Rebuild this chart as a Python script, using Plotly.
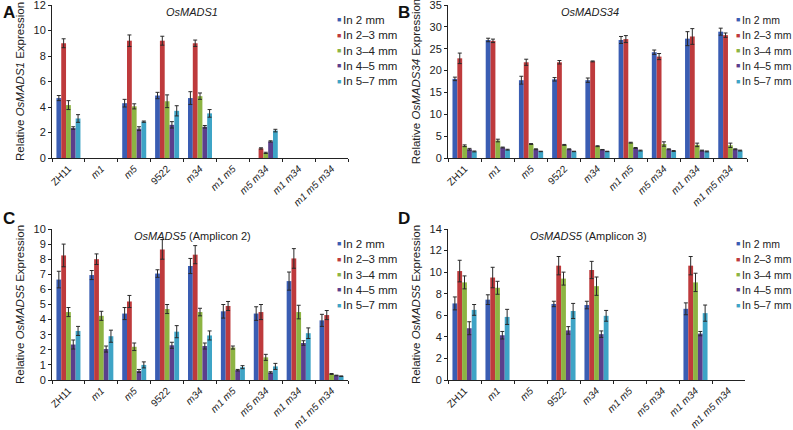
import plotly.graph_objects as go

categories = ["ZH11", "m1", "m5", "9522", "m34", "m1 m5", "m5 m34", "m1 m34", "m1 m5 m34"]
tick_labels = ["ZH11", "<i>m1</i>", "<i>m5</i>", "9522", "<i>m34</i>", "<i>m1 m5</i>",
               "<i>m5 m34</i>", "<i>m1 m34</i>", "<i>m1 m5 m34</i>"]
series_names = ["In 2 mm", "In 2\u20133 mm", "In 3\u20134 mm", "In 4\u20135 mm", "In 5\u20137 mm"]
colors = ["#3a5db3", "#be3a3c", "#8db443", "#5b3f8c", "#3ea4c6"]

# Panel A: OsMADS1
a_2mm = [4.7, 0, 4.3, 4.9, 4.7, 0, 0, 0, 0]
a_23 = [9.0, 0, 9.2, 9.2, 9.0, 0, 0.75, 0, 0]
a_34 = [4.15, 0, 4.05, 4.45, 4.85, 0, 0.4, 0, 0]
a_45 = [2.35, 0, 2.3, 2.6, 2.45, 0, 1.3, 0, 0]
a_57 = [3.1, 0, 2.85, 3.7, 3.5, 0, 2.15, 0, 0]
a_err_2mm = [0.2, 0, 0.3, 0.25, 0.5, 0, 0, 0, 0]
a_err_23 = [0.35, 0, 0.45, 0.35, 0.25, 0, 0.05, 0, 0]
a_err_34 = [0.35, 0, 0.2, 0.5, 0.25, 0, 0.05, 0, 0]
a_err_45 = [0.1, 0, 0.15, 0.25, 0.1, 0, 0.05, 0, 0]
a_err_57 = [0.3, 0, 0.05, 0.4, 0.3, 0, 0.1, 0, 0]

# Panel B: OsMADS34
b_2mm = [18.1, 27.0, 17.8, 18.0, 17.8, 27.0, 24.2, 27.3, 28.9]
b_23 = [22.8, 26.8, 21.9, 21.9, 22.1, 27.2, 23.2, 27.8, 28.1]
b_34 = [2.8, 4.0, 3.2, 3.0, 2.7, 3.5, 3.2, 3.0, 2.9]
b_45 = [2.0, 2.4, 2.0, 2.0, 1.9, 2.3, 2.0, 1.7, 2.0]
b_57 = [1.5, 1.9, 1.5, 1.5, 1.5, 1.7, 1.6, 1.5, 1.7]
b_err_2mm = [0.4, 0.4, 0.9, 0.4, 0.5, 0.8, 0.5, 1.6, 0.8]
b_err_23 = [1.2, 0.4, 0.7, 0.4, 0.1, 0.8, 0.7, 1.8, 0.5]
b_err_34 = [0.2, 0.3, 0.1, 0.1, 0.1, 0.1, 0.5, 0.4, 0.5]
b_err_45 = [0.2, 0.1, 0.1, 0.1, 0.05, 0.1, 0.1, 0.1, 0.1]
b_err_57 = [0.1, 0.1, 0.05, 0.05, 0.05, 0.1, 0.1, 0.1, 0.1]

# Panel C: OsMADS5 (Amplicon 2)
c_2mm = [6.65, 6.95, 4.4, 7.05, 7.55, 4.55, 4.4, 6.55, 3.95]
c_23 = [8.25, 8.0, 5.2, 8.65, 8.3, 4.9, 4.5, 8.05, 4.3]
c_34 = [4.5, 4.25, 2.2, 4.7, 4.5, 2.15, 1.5, 4.5, 0.4]
c_45 = [2.35, 2.05, 0.6, 2.3, 2.25, 0.65, 0.5, 2.45, 0.3]
c_57 = [3.25, 2.9, 1.0, 3.2, 2.95, 0.85, 0.9, 3.1, 0.25]
c_err_2mm = [0.55, 0.3, 0.4, 0.25, 0.5, 0.45, 0.45, 0.6, 0.4]
c_err_23 = [0.75, 0.35, 0.4, 0.65, 0.6, 0.3, 0.5, 0.65, 0.3]
c_err_34 = [0.3, 0.3, 0.25, 0.3, 0.25, 0.1, 0.2, 0.45, 0.03]
c_err_45 = [0.3, 0.2, 0.1, 0.2, 0.2, 0.05, 0.05, 0.15, 0.02]
c_err_57 = [0.3, 0.4, 0.2, 0.4, 0.3, 0.1, 0.2, 0.35, 0.02]

# Panel D: OsMADS5 (Amplicon 3)
d_2mm = [7.1, 7.45, 0, 7.05, 6.95, 0, 0, 6.6, 0]
d_23 = [10.1, 9.5, 0, 10.6, 10.2, 0, 0, 10.6, 0]
d_34 = [9.05, 8.55, 0, 9.4, 8.7, 0, 0, 9.05, 0]
d_45 = [4.8, 4.15, 0, 4.6, 4.25, 0, 0, 4.3, 0]
d_57 = [6.5, 5.85, 0, 6.4, 5.95, 0, 0, 6.2, 0]
d_err_2mm = [0.6, 0.45, 0, 0.25, 0.35, 0, 0, 0.55, 0]
d_err_23 = [1.0, 0.95, 0, 0.85, 0.8, 0, 0, 0.85, 0]
d_err_34 = [0.6, 0.6, 0, 0.6, 0.85, 0, 0, 0.85, 0]
d_err_45 = [0.6, 0.35, 0, 0.35, 0.3, 0, 0, 0.2, 0]
d_err_57 = [0.5, 0.7, 0, 0.7, 0.5, 0, 0, 0.75, 0]

panels = [
    dict(vals=[a_2mm, a_23, a_34, a_45, a_57], errs=[a_err_2mm, a_err_23, a_err_34, a_err_45, a_err_57],
         title="<i>OsMADS1</i>", ytitle="Relative <i>OsMADS1</i> Expression", label="A",
         yrange=[0, 12], dtick=2, xd=[52, 348], yd=[5, 158]),
    dict(vals=[b_2mm, b_23, b_34, b_45, b_57], errs=[b_err_2mm, b_err_23, b_err_34, b_err_45, b_err_57],
         title="<i>OsMADS34</i>", ytitle="Relative <i>OsMADS34</i> Expression", label="B",
         yrange=[0, 35], dtick=5, xd=[448, 747], yd=[5, 158]),
    dict(vals=[c_2mm, c_23, c_34, c_45, c_57], errs=[c_err_2mm, c_err_23, c_err_34, c_err_45, c_err_57],
         title="<i>OsMADS5</i> (Amplicon 2)", ytitle="Relative <i>OsMADS5</i> Expression", label="C",
         yrange=[0, 10], dtick=1, xd=[52, 348], yd=[229, 380]),
    dict(vals=[d_2mm, d_23, d_34, d_45, d_57], errs=[d_err_2mm, d_err_23, d_err_34, d_err_45, d_err_57],
         title="<i>OsMADS5</i> (Amplicon 3)", ytitle="Relative <i>OsMADS5</i> Expression", label="D",
         yrange=[0, 14], dtick=2, xd=[448, 745], yd=[229, 380]),
]

W, H = 793, 430
FONT = "Liberation Sans, Arial, sans-serif"
fig = go.Figure()
layout = dict(width=W, height=H, margin=dict(l=0, r=0, t=0, b=0, autoexpand=False),
              paper_bgcolor="white", plot_bgcolor="white", showlegend=False,
              barmode="group", bargap=0.27, bargroupgap=0.0,
              font=dict(family=FONT, size=11, color="#222"))
annotations = []

for i, p in enumerate(panels):
    n = "" if i == 0 else str(i + 1)
    xa, ya = "x" + n, "y" + n
    for s in range(5):
        vals = p["vals"][s]
        errs = [e if v > 0 else None for v, e in zip(vals, p["errs"][s])]
        fig.add_trace(go.Bar(
            x=categories, y=[v if v > 0 else None for v in vals], name=series_names[s],
            xaxis=xa, yaxis=ya,
            marker=dict(color=colors[s], line=dict(width=0)),
            error_y=dict(type="data", array=errs, visible=True, color="#2a2a2a",
                         thickness=1, width=2),
        ))
    x0, x1 = p["xd"][0] / W, p["xd"][1] / W
    y0, y1 = 1 - p["yd"][1] / H, 1 - p["yd"][0] / H
    layout["xaxis" + n] = dict(domain=[x0, x1], anchor=ya, type="category",
                               categoryorder="array", categoryarray=categories,
                               tickmode="array", tickvals=categories,
                               ticktext=tick_labels, tickangle=-45, showline=True, linecolor="#222",
                               linewidth=1, ticks="outside", tickson="boundaries", ticklen=3,
                               tickcolor="#222", showgrid=False, tickfont=dict(size=10, color="#222"))
    layout["yaxis" + n] = dict(domain=[y0, y1], anchor=xa, range=p["yrange"], dtick=p["dtick"],
                               showline=True, linecolor="#222", linewidth=1, ticks="outside",
                               ticklen=3, tickcolor="#222", showgrid=False, zeroline=False,
                               ticklabeloverflow="allow",
                               tickfont=dict(size=11, color="#222"),
                               title=dict(text=p["ytitle"], font=dict(size=11.5, color="#222"),
                                          standoff=6))
    # panel title
    annotations.append(dict(text=p["title"], x=(x0 + x1) / 2 - 0.01, y=y1 - 7 / H, xref="paper",
                            yref="paper", showarrow=False, xanchor="center", yanchor="middle",
                            font=dict(size=11, color="#222")))
    # panel label
    lx = 1 / W if i % 2 == 0 else 396 / W
    ly = 1 - (1 / H) if i < 2 else 1 - (207 / H)
    annotations.append(dict(text="<b>%s</b>" % p["label"], x=lx, y=ly, xref="paper", yref="paper",
                            showarrow=False, xanchor="left", yanchor="top",
                            font=dict(size=17, color="#111")))
    # legend
    leg_x = 335 if i % 2 == 0 else 734
    leg_y0 = 20 if i < 2 else 244
    fs = 11.5 if i % 2 == 0 else 10.5
    for s in range(5):
        yy = 1 - (leg_y0 + s * 15.3) / H
        annotations.append(dict(text="\u25A0", x=leg_x / W, y=yy, xref="paper", yref="paper",
                                showarrow=False, xanchor="left", yanchor="middle",
                                font=dict(size=7, color=colors[s])))
        annotations.append(dict(text=series_names[s], x=(leg_x + 6) / W, y=yy, xref="paper",
                                yref="paper", showarrow=False, xanchor="left", yanchor="middle",
                                font=dict(size=fs, color="#222")))

layout["annotations"] = annotations
fig.update_layout(**layout)
fig.write_html("out.html", config={"displayModeBar": False},
               post_script="document.body.style.margin='0';document.body.style.overflow='hidden';")
